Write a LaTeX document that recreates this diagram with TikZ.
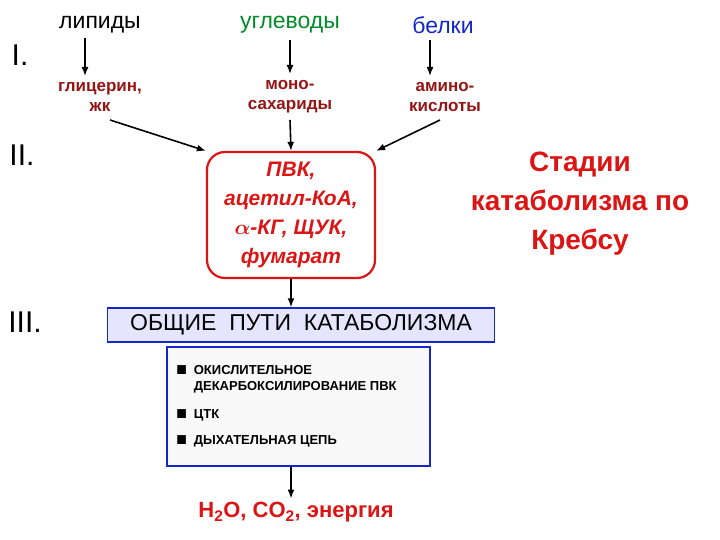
\documentclass[tikz,border=0pt]{standalone}
\usepackage{amsmath,amssymb}
\usepackage{fontspec}
\setmainfont{Liberation Sans}
\usetikzlibrary{arrows.meta}
\definecolor{dred}{RGB}{150,20,20}
\definecolor{gr}{RGB}{0,140,40}
\definecolor{bl}{RGB}{20,40,200}
\definecolor{rd}{RGB}{220,20,20}
\begin{document}
\begin{tikzpicture}[x=1pt,y=-1pt,
  arr/.style={-{Latex[length=9pt,width=7pt]},line width=1.6pt},
  roman/.style={font=\fontsize{30}{32}\selectfont},
  top/.style={font=\fontsize{23}{26}\selectfont},
  sub/.style={font=\bfseries\fontsize{17}{20}\selectfont,text=dred,align=center},
  item/.style={font=\bfseries\fontsize{13}{16}\selectfont,anchor=west,align=left}]
\useasboundingbox (0,0) rectangle (720,540);
\node[roman] (r1) at (20,55) {I.};
\node[roman] (r2) at (22,155) {II.};
\node[roman] (r3) at (25,322) {III.};
\node[top] (l) at (100,25) {липиды};
\node[top,text=gr] (u) at (290,25) {углеводы};
\node[top,text=bl] (b) at (443,25) {белки};
\node[sub] (l2) at (100,97) {глицерин,\\жк};
\node[sub] (u2) at (290,97) {моно-\\сахариды};
\node[sub] (b2) at (445,97) {амино-\\кислоты};
\node[draw=rd,line width=2.2pt,rounded corners=18pt,minimum width=168pt,minimum height=126pt,
  text=rd,font=\bfseries\itshape\fontsize{21}{29}\selectfont,align=center,inner sep=0pt] (p) at (291,215)
  {ПВК,\\ацетил-КоА,\\$\boldsymbol{\alpha}$-КГ, ЩУК,\\фумарат};
\node[text=rd,font=\bfseries\fontsize{28}{39}\selectfont,align=center] (st) at (580,204) {Стадии\\катаболизма по\\Кребсу};
\node[draw=bl,line width=1.5pt,fill=blue!10,minimum width=387pt,minimum height=34pt,inner sep=0pt,
  font=\fontsize{23}{25}\selectfont] (o) at (301,325) {ОБЩИЕ\ \ ПУТИ\ \ КАТАБОЛИЗМА};
\node[draw=bl,line width=1.5pt,fill=gray!5,minimum width=263pt,minimum height=119pt,inner sep=0pt] (lst) at (298.5,406.5) {};
\node[item] (i1) at (173,379) {$\blacksquare$\ \ ОКИСЛИТЕЛЬНОЕ\\\phantom{$\blacksquare$\ \ }ДЕКАРБОКСИЛИРОВАНИЕ ПВК};
\node[item] (i2) at (173,415) {$\blacksquare$\ \ ЦТК};
\node[item] (i3) at (173,441) {$\blacksquare$\ \ ДЫХАТЕЛЬНАЯ ЦЕПЬ};
\node[text=rd,font=\bfseries\fontsize{22}{24}\selectfont] (h) at (296,512) {H\textsubscript{2}O, CO\textsubscript{2}, энергия};
\draw[arr] (85,38) -- (85,76);
\draw[arr] (290,40) -- (290,74);
\draw[arr] (430,40) -- (430,76);
\draw[arr] (110,120) -- (p.north west);
\draw[arr] (290,120) -- (p.north);
\draw[arr] (440,120) -- (p.north east);
\draw[arr] (p.south) -- (o.north -| p.south);
\draw[arr] (lst.south -| p.south) -- (h.north -| p.south);
\end{tikzpicture}
\end{document}
